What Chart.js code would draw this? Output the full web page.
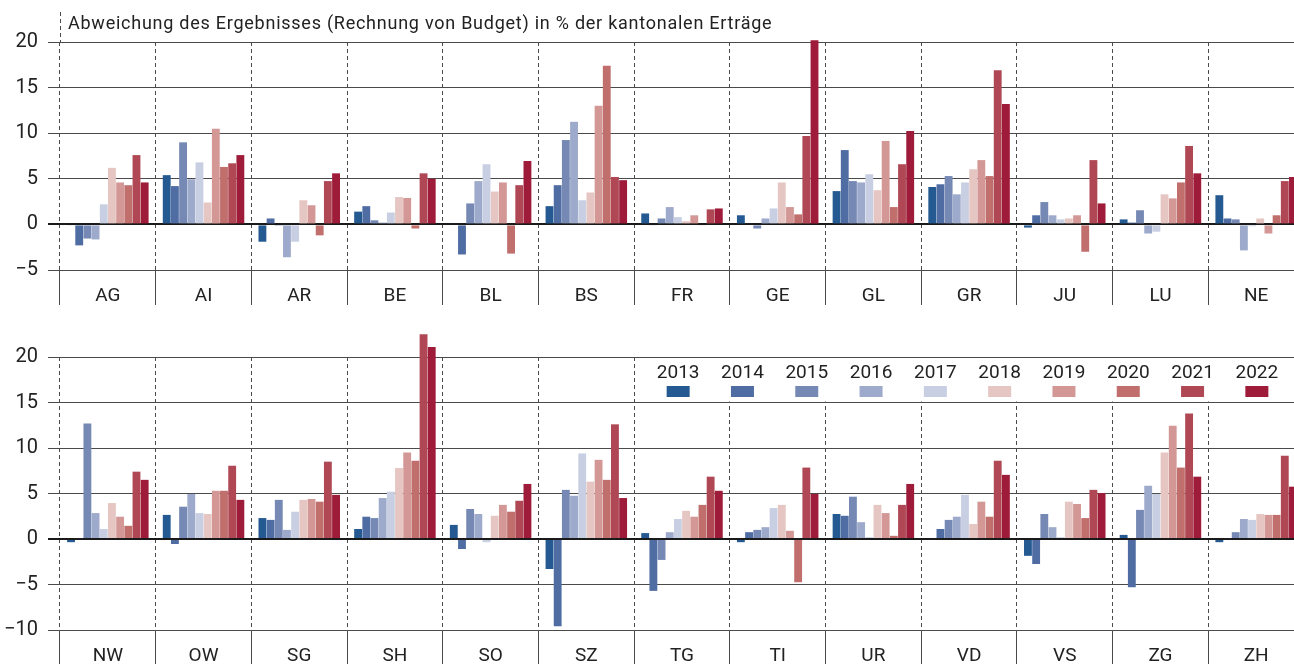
<!DOCTYPE html>
<html>
<head>
<meta charset="utf-8">
<script src="https://cdn.jsdelivr.net/npm/chart.js@4"></script>
<style>
  html, body { margin: 0; padding: 0; background: #fff; overflow: hidden; }
  .panel { position: absolute; left: 0; width: 1304px; }
  #top-panel { top: 0; height: 312px; }
  #bottom-panel { top: 315px; height: 380px; }
</style>
</head>
<body>
<div class="panel" id="top-panel"><canvas id="chart-top"></canvas></div>
<div class="panel" id="bottom-panel"><canvas id="chart-bottom"></canvas></div>
<script>
// Abweichung Rechnung vs. Budget, Kantone 2013-2022
const title = 'Abweichung des Ergebnisses (Rechnung von Budget) in % der kantonalen Erträge';
const years = ['2013', '2014', '2015', '2016', '2017', '2018', '2019', '2020', '2021', '2022'];
const yearColors = ['#245a91', '#4f6ca3', '#7689b4', '#9eaacb', '#c8cfe2',
                    '#e5c6c2', '#d39896', '#c06f6d', '#af4854', '#9e1b3a'];

const topCantons = ['AG', 'AI', 'AR', 'BE', 'BL', 'BS', 'FR', 'GE', 'GL', 'GR', 'JU', 'LU', 'NE'];
const top2013 = [-0.1, 5.4, -1.9, 1.4, 0.1, 2.0, 1.2, 1.0, 3.65, 4.1, -0.35, 0.55, 3.2];
const top2014 = [-2.3, 4.2, 0.65, 2.0, -3.3, 4.3, -0.1, 0.1, 8.15, 4.4, 1.0, 0.2, 0.65];
const top2015 = [-1.55, 9.0, -0.15, 0.45, 2.3, 9.25, 0.65, -0.45, 4.75, 5.3, 2.45, 1.55, 0.55];
const top2016 = [-1.65, 4.95, -3.6, 0.2, 4.75, 11.25, 1.9, 0.65, 4.6, 3.3, 1.0, -1.0, -2.85];
const top2017 = [2.2, 6.8, -1.9, 1.3, 6.6, 2.65, 0.8, 1.75, 5.5, 4.6, 0.55, -0.8, -0.2];
const top2018 = [6.2, 2.4, 2.65, 3.0, 3.6, 3.5, 0.35, 4.6, 3.75, 6.05, 0.65, 3.3, 0.65];
const top2019 = [4.6, 10.5, 2.1, 2.9, 4.6, 13.0, 1.0, 1.9, 9.15, 7.05, 1.0, 2.85, -1.0];
const top2020 = [4.3, 6.3, -1.2, -0.45, -3.2, 17.4, -0.1, 1.1, 1.9, 5.3, -3.0, 4.6, 1.0];
const top2021 = [7.6, 6.7, 4.75, 5.6, 4.3, 5.2, 1.65, 9.7, 6.6, 16.9, 7.05, 8.6, 4.75];
const top2022 = [4.6, 7.6, 5.6, 5.0, 6.95, 4.85, 1.75, 20.2, 10.25, 13.2, 2.3, 5.6, 5.2];

const bottomCantons = ['NW', 'OW', 'SG', 'SH', 'SO', 'SZ', 'TG', 'TI', 'UR', 'VD', 'VS', 'ZG', 'ZH'];
const bottom2013 = [-0.35, 2.65, 2.3, 1.1, 1.55, -3.3, 0.65, -0.35, 2.75, -0.1, -1.85, 0.45, -0.35];
const bottom2014 = [0.1, -0.55, 2.1, 2.45, -1.1, -9.6, -5.7, 0.75, 2.55, 1.1, -2.75, -5.3, 0.1];
const bottom2015 = [12.7, 3.55, 4.3, 2.3, 3.3, 5.4, -2.3, 1.0, 4.65, 2.1, 2.75, 3.2, 0.75];
const bottom2016 = [2.85, 4.95, 1.0, 4.5, 2.75, 4.75, 0.75, 1.3, 1.85, 2.45, 1.3, 5.85, 2.2];
const bottom2017 = [1.1, 2.85, 3.0, 5.2, -0.35, 9.4, 2.2, 3.4, 0.2, 4.85, 0.2, 4.95, 2.1];
const bottom2018 = [3.95, 2.75, 4.3, 7.8, 2.55, 6.3, 3.1, 3.75, 3.75, 1.65, 4.1, 9.5, 2.75];
const bottom2019 = [2.45, 5.3, 4.4, 9.5, 3.75, 8.7, 2.45, 0.9, 2.85, 4.1, 3.85, 12.45, 2.65];
const bottom2020 = [1.45, 5.3, 4.1, 8.6, 3.0, 6.5, 3.75, -4.75, 0.35, 2.45, 2.3, 7.85, 2.65];
const bottom2021 = [7.4, 8.05, 8.5, 22.5, 4.2, 12.6, 6.85, 7.85, 3.75, 8.6, 5.4, 13.8, 9.15];
const bottom2022 = [6.5, 4.3, 4.85, 21.1, 6.05, 4.5, 5.3, 4.95, 6.05, 7.05, 5.05, 6.85, 5.75];

const topValues = [top2013, top2014, top2015, top2016, top2017, top2018, top2019, top2020, top2021, top2022];
const bottomValues = [bottom2013, bottom2014, bottom2015, bottom2016, bottom2017,
                      bottom2018, bottom2019, bottom2020, bottom2021, bottom2022];

const numFamily = "Roboto, sans-serif";
const textColor = '#222';
const gridColor = '#4a4a4a';

// title + dashed line running up to it (top panel only)
const panelTitle = {
  id: 'panelTitle',
  afterDraw(chart) {
    const { ctx, chartArea } = chart;
    ctx.save();
    ctx.strokeStyle = gridColor;
    ctx.lineWidth = 1;
    ctx.setLineDash([4, 3]);
    ctx.beginPath();
    ctx.moveTo(chartArea.left + 0.5, 12);
    ctx.lineTo(chartArea.left + 0.5, chartArea.top);
    ctx.stroke();
    ctx.setLineDash([]);
    ctx.fillStyle = textColor;
    ctx.font = '18px Roboto';
    ctx.letterSpacing = '0.75px';
    ctx.textBaseline = 'alphabetic';
    ctx.fillText(title, chartArea.left + 8, 29);
    ctx.restore();
  }
};

// year legend: label above colour swatch, on white box between 20 and 15
const yearLegend = {
  id: 'yearLegend',
  afterDatasetsDraw(chart) {
    const { ctx, chartArea, scales } = chart;
    const catW = (chartArea.right - chartArea.left) / bottomCantons.length;
    const boxLeft = chartArea.left + 6 * catW + 1;
    const boxTop = scales.y.getPixelForValue(20) + 1;
    const boxBottom = scales.y.getPixelForValue(15) - 1;
    ctx.save();
    ctx.fillStyle = '#fff';
    ctx.fillRect(boxLeft, boxTop, chartArea.right - boxLeft, boxBottom - boxTop);
    ctx.font = '19px ' + numFamily;
    ctx.textAlign = 'center';
    ctx.textBaseline = 'middle';
    chart.data.datasets.forEach((ds, i) => {
      const cx = boxLeft + 43 + i * 64.3;
      ctx.fillStyle = textColor;
      ctx.fillText(ds.label, cx, boxTop + 15);
      ctx.fillStyle = ds.backgroundColor;
      ctx.fillRect(cx - 11.5, boxTop + 28, 23, 11);
    });
    ctx.restore();
  }
};

function makePanel(canvasId, cantons, values, yMin, xHeight, plugins) {
  const datasets = years.map((year, i) => ({
    label: year,
    data: values[i],
    backgroundColor: yearColors[i],
    borderWidth: 0,
    categoryPercentage: 0.855,
    barPercentage: 0.96,
    clip: false
  }));

  return new Chart(document.getElementById(canvasId), {
    type: 'bar',
    data: { labels: cantons, datasets },
    plugins,
    options: {
      responsive: true,
      maintainAspectRatio: false,
      animation: false,
      layout: { padding: { top: 42, left: 0, right: 0, bottom: 0 } },
      plugins: {
        legend: { display: false },
        tooltip: { enabled: false },
        title: { display: false }
      },
      scales: {
        x: {
          afterFit: s => { s.height = xHeight; },
          grid: {
            offset: true,
            color: gridColor,
            lineWidth: 1,
            tickLength: 35
          },
          border: { display: false, dash: [4, 3] },
          ticks: {
            color: textColor,
            font: { family: numFamily, size: 19 },
            padding: -20,
            maxRotation: 0,
            autoSkip: false
          }
        },
        y: {
          min: yMin,
          max: 20,
          afterFit: s => { s.width = 60; },
          grid: {
            color: ctx => ctx.tick && ctx.tick.value === 0 ? '#1a1a1a' : gridColor,
            lineWidth: ctx => ctx.tick && ctx.tick.value === 0 ? 2 : 1,
            tickLength: 12
          },
          border: { display: false },
          ticks: {
            stepSize: 5,
            color: textColor,
            font: { family: numFamily, size: 20 },
            padding: 10,
            callback: v => v < 0 ? '\u2212' + Math.abs(v) : String(v)
          }
        }
      }
    }
  });
}

makePanel('chart-top', topCantons, topValues, -5, 42, [panelTitle]);
makePanel('chart-bottom', bottomCantons, bottomValues, -10, 65, [yearLegend]);
</script>
</body>
</html>
